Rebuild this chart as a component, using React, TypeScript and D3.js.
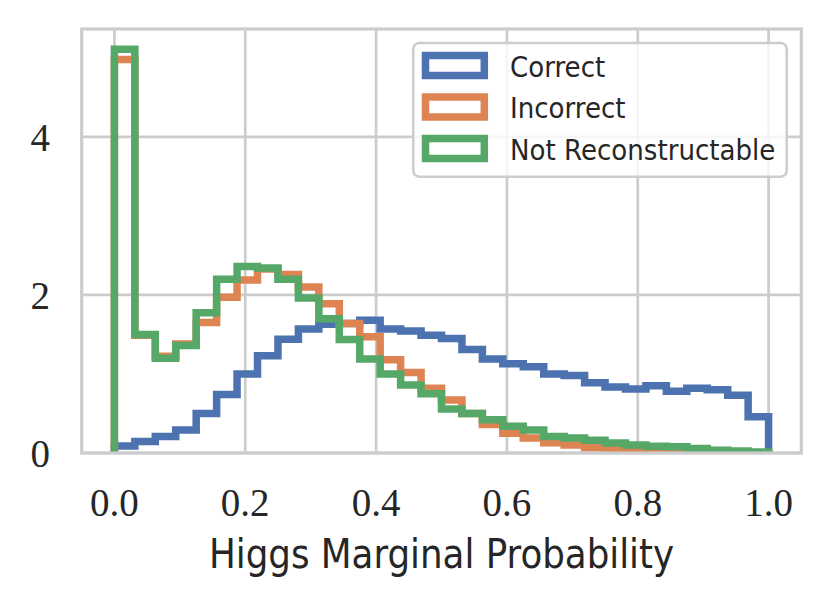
import * as d3 from "d3";
import React from "react";

// density histograms, 32 bins over [0, 1]
const nBins = 32;
const correct = [0.09, 0.145, 0.21, 0.29, 0.5, 0.74, 1.0, 1.23, 1.44, 1.57, 1.63, 1.64, 1.68, 1.57, 1.545, 1.49, 1.45, 1.31, 1.19, 1.13, 1.09, 1.0, 0.98, 0.89, 0.835, 0.81, 0.85, 0.78, 0.82, 0.8, 0.73, 0.46];
const incorrect = [4.98, 1.49, 1.225, 1.38, 1.65, 1.97, 2.19, 2.33, 2.26, 2.1, 1.89, 1.64, 1.47, 1.18, 1.02, 0.82, 0.67, 0.5, 0.36, 0.25, 0.19, 0.13, 0.1, 0.065, 0.05, 0.04, 0.03, 0.02, 0.015, 0.01, 0.006, 0.003];
const notReco = [5.11, 1.5, 1.2, 1.36, 1.775, 2.2, 2.36, 2.34, 2.2, 1.96, 1.7, 1.435, 1.19, 1.0, 0.86, 0.75, 0.557, 0.5, 0.42, 0.34, 0.29, 0.21, 0.19, 0.16, 0.125, 0.1, 0.085, 0.08, 0.057, 0.035, 0.025, 0.012];

const seriesNames = ["Correct", "Incorrect", "Not Reconstructable"];
const seriesColors = ["#4c72b0", "#dd8452", "#55a868"];
const seriesData = [correct, incorrect, notReco];

const xTicks = [0, 0.2, 0.4, 0.6, 0.8, 1.0];
const yTicks = [0, 2, 4];

const W = 831, H = 605;
const left = 81.7, right = 801.3, top = 29, bottom = 453;

const App: React.FC = () => {
    const x = d3.scaleLinear().domain([-0.05, 1.05]).range([left, right]);
    const ymax = d3.max(seriesData.flat()) as number;
    const y = d3.scaleLinear().domain([0, ymax * 1.05]).range([bottom, top]);

    const line = d3.line<[number, number]>()
        .x(d => x(d[0]))
        .y(d => y(d[1]))
        .curve(d3.curveStepAfter);

    const stepPath = (vals: number[]) => {
        const pts: [number, number][] = [[0, 0]];
        vals.forEach((v, i) => pts.push([i / nBins, v]));
        pts.push([1, vals[vals.length - 1]]);
        pts.push([1, 0]);
        return line(pts) || "";
    };

    const gridColor = "#cccccc";
    const legX = 413.3, legY = 43, legW = 373.4, legH = 133.7;
    const sans = "'DejaVu Sans', sans-serif";
    const labelX = (left + right) / 2;

    return (
        <svg width={W} height={H} style={{ position: "absolute", left: 0, top: 0, background: "#fff" }}>
            <defs>
                <clipPath id="plotArea">
                    <rect x={left} y={top} width={right - left} height={bottom - top} />
                </clipPath>
            </defs>

            {/* grid */}
            {xTicks.map(t => (
                <line key={"gx" + t} x1={x(t)} x2={x(t)} y1={top} y2={bottom} stroke={gridColor} strokeWidth={2.7} />
            ))}
            {yTicks.map(t => (
                <line key={"gy" + t} x1={left} x2={right} y1={y(t)} y2={y(t)} stroke={gridColor} strokeWidth={2.7} />
            ))}

            {/* histograms */}
            <g clipPath="url(#plotArea)">
                {seriesData.map((vals, i) => (
                    <path key={seriesNames[i]} d={stepPath(vals)} fill="none" stroke={seriesColors[i]}
                        strokeWidth={7.5} strokeLinejoin="miter" strokeLinecap="butt" />
                ))}
            </g>

            {/* spines */}
            <rect x={left} y={top} width={right - left} height={bottom - top} fill="none" stroke={gridColor} strokeWidth={3.2} />

            {/* tick labels */}
            <g fontFamily="'Liberation Serif', serif" fontSize={39} fill="#262626">
                {xTicks.map(t => (
                    <text key={"tx" + t} x={x(t)} y={516} textAnchor="middle">{t.toFixed(1)}</text>
                ))}
                {yTicks.map(t => (
                    <text key={"ty" + t} x={50} y={y(t) + 14} textAnchor="end">{t}</text>
                ))}
            </g>

            {/* x label, slightly condensed to mimic computer modern sans */}
            <text transform={`translate(${labelX},568) scale(0.87,1)`} textAnchor="middle" fontFamily={sans}
                fontSize={41} fill="#262626">Higgs Marginal Probability</text>

            {/* legend */}
            <rect x={legX} y={legY} width={legW} height={legH} rx={6} fill="#fff" fillOpacity={0.8}
                stroke={gridColor} strokeWidth={2.5} />
            {seriesNames.map((name, i) => {
                const cy = 65.5 + i * 41.5;
                return (
                    <g key={"leg" + name}>
                        <rect x={425.5} y={cy - 10} width={58.8} height={20} fill="none"
                            stroke={seriesColors[i]} strokeWidth={7.5} />
                        <text transform={`translate(510,${cy + 11}) scale(0.9,1)`} fontFamily={sans} fontSize={29}
                            fill="#262626">{name}</text>
                    </g>
                );
            })}
        </svg>
    );
};

export default App;
